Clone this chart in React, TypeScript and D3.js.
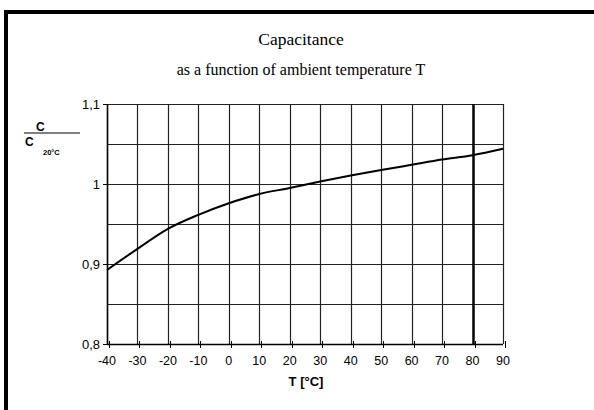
import React from 'react'
import * as d3 from 'd3'

// values
const temps = [-40, -30, -20, -10, 0, 10, 20, 30, 40, 50, 60, 70, 80, 90]
const ratio = [0.8925, 0.919, 0.944, 0.9615, 0.976, 0.9875, 0.995, 1.003, 1.0105, 1.0175, 1.024, 1.0305, 1.036, 1.044]
const yTicks = [0.8, 0.9, 1, 1.1]
const yGrid = [0.8, 0.85, 0.9, 0.95, 1, 1.05, 1.1]
const markedTemp = 80

const W = 594
const H = 410
const margin = { left: 107, right: 91, top: 104, bottom: 66 }

export default function App() {
  const x = d3.scaleLinear().domain([-40, 90]).range([margin.left, W - margin.right])
  const y = d3.scaleLinear().domain([0.8, 1.1]).range([H - margin.bottom, margin.top])

  const line = d3.line<number>()
    .x((_, i) => x(temps[i]))
    .y(d => y(d))
    .curve(d3.curveMonotoneX)

  const x0 = x(-40), x1 = x(90), yb = y(0.8), yt = y(1.1)
  const num = (v: number) => String(v).replace('.', ',')

  return (
    <div style={{ position: 'absolute', left: 0, top: 0 }}>
      <svg width={W} height={H} style={{ display: 'block', background: '#fff' }}>
        {/* page frame */}
        <line x1={6} x2={6} y1={10} y2={H} stroke="#000" strokeWidth={4} />
        <line x1={4} x2={W} y1={12} y2={12} stroke="#000" strokeWidth={4} />

        <text x={301} y={45} textAnchor="middle" fontFamily="Liberation Serif" fontSize={17.5}>Capacitance</text>
        <text x={301} y={75} textAnchor="middle" fontFamily="Liberation Serif" fontSize={16}>as a function of ambient temperature T</text>

        {/* horizontal grid */}
        {yGrid.map(v => (
          <line key={'h' + v} x1={x0} x2={x1} y1={Math.round(y(v)) + 0.5} y2={Math.round(y(v)) + 0.5} stroke="#222" strokeWidth={1.2} />
        ))}
        {/* vertical grid */}
        {temps.map(t => (
          <line key={'v' + t} x1={Math.round(x(t)) + 0.5} x2={Math.round(x(t)) + 0.5} y1={yt} y2={yb}
            stroke={t === markedTemp ? '#000' : '#222'} strokeWidth={t === markedTemp ? 2.5 : 1.2} />
        ))}
        {/* axes */}
        <line x1={x0 + 0.5} x2={x0 + 0.5} y1={yt} y2={yb} stroke="#000" strokeWidth={1.5} />
        <line x1={x0} x2={x1} y1={yb + 0.5} y2={yb + 0.5} stroke="#000" strokeWidth={1.5} />

        {yTicks.map(v => (
          <g key={'yt' + v}>
            <line x1={x0 - 4} x2={x0} y1={Math.round(y(v)) + 0.5} y2={Math.round(y(v)) + 0.5} stroke="#000" />
            <text x={x0 - 7} y={y(v) + 4.5} textAnchor="end" fontFamily="Liberation Sans" fontSize={13}>{num(v)}</text>
          </g>
        ))}
        {temps.map(t => (
          <g key={'xt' + t}>
            <line x1={Math.round(x(t)) + 2.5} x2={Math.round(x(t)) + 2.5} y1={yb - 3} y2={yb + 4} stroke="#000" />
            <text x={x(t)} y={365} textAnchor="middle" fontFamily="Liberation Sans" fontSize={12.5}>{t}</text>
          </g>
        ))}

        <text x={306} y={386} textAnchor="middle" fontFamily="Liberation Sans" fontWeight="bold" fontSize={13}>T [°C]</text>

        {/* y-axis label: C / C20°C */}
        <text x={36} y={131} fontFamily="Liberation Sans" fontWeight="bold" fontSize={12}>C</text>
        <line x1={24} x2={80} y1={133} y2={133} stroke="#000" strokeWidth={1} />
        <text x={25} y={146} fontFamily="Liberation Sans" fontWeight="bold" fontSize={12}>C</text>
        <text x={43} y={155} fontFamily="Liberation Sans" fontWeight="bold" fontSize={7.5}>20°C</text>

        <path d={line(ratio) ?? ''} fill="none" stroke="#000" strokeWidth={2} />
      </svg>
    </div>
  )
}
